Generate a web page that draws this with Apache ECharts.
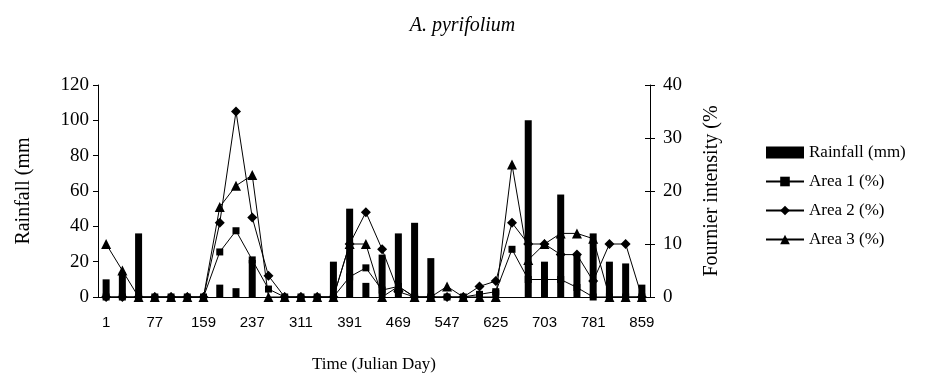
<!DOCTYPE html>
<html lang="en">
<head>
    <meta charset="UTF-8">
    <title>A. pyrifolium</title>
    <script src="https://cdn.jsdelivr.net/npm/echarts@6/dist/echarts.min.js"></script>
</head>
<body style="margin:0">
<div id="main" style="width: 925px;height: 379px"></div>
<script>
    // Julian day of each sample
    var days = [1, 27, 52, 77, 104, 131, 159, 185, 211, 237, 262, 286, 311, 338, 364, 391, 417,
        443, 469, 495, 521, 547, 573, 599, 625, 651, 677, 703, 729, 755, 781, 807, 833, 859];
    var rainfall = [10, 14, 36, 0, 0, 0, 0, 7, 5, 21, 0, 0, 0, 0, 20, 50, 8,
        24, 36, 42, 22, 0, 0, 3, 4, 0, 100, 20, 58, 24, 36, 20, 19, 7];
    var area1 = [0, 0, 0, 0, 0, 0, 0, 8.5, 12.5, 7, 1.5, 0, 0, 0, 0, 3.8, 5.5,
        1.3, 2, 0, 0, 0, 0, 0.5, 1, 9, 3.3, 3.3, 3.3, 1.8, 0, 0, 0, 0];
    var area2 = [0, 0, 0, 0, 0, 0, 0, 14, 35, 15, 4, 0, 0, 0, 0, 10, 16,
        9, 1, 0, 0, 0, 0, 2, 3, 14, 10, 10, 8, 8, 3, 10, 10, 0];
    var area3 = [10, 5, 0, 0, 0, 0, 0, 17, 21, 23, 0, 0, 0, 0, 0, 10, 10,
        0, 2, 0, 0, 2, 0, 0, 0, 25, 7, 10, 12, 12, 11, 0, 0, 0];

    var serif = 'Liberation Serif';
    var sans = 'Liberation Sans';

    var myChart = echarts.init(document.getElementById('main'));

    function lineSeries(name, data, symbol, size) {
        return {
            name: name,
            type: 'line',
            yAxisIndex: 1,
            data: data,
            symbol: symbol,
            symbolSize: size,
            showAllSymbol: true,
            z: 3,
            itemStyle: {color: '#000'},
            lineStyle: {color: '#000', width: 1}
        };
    }

    var option = {
        backgroundColor: '#fff',
        animation: false,
        title: {
            text: 'A. pyrifolium',
            left: 'center',
            top: 11,
            textStyle: {fontFamily: serif, fontStyle: 'italic', fontWeight: 'normal', fontSize: 20, color: '#000'}
        },
        legend: {
            orient: 'vertical',
            left: 760,
            top: 139,
            itemWidth: 38,
            itemHeight: 12,
            itemGap: 12,
            textStyle: {fontFamily: serif, fontSize: 17, color: '#000'},
            data: [{name: 'Rainfall (mm)', icon: 'rect'}, 'Area 1 (%)', 'Area 2 (%)', 'Area 3 (%)']
        },
        grid: {left: 98, right: 275, top: 85, bottom: 82},
        xAxis: {
            type: 'category',
            data: days,
            name: 'Time (Julian Day)',
            nameLocation: 'middle',
            nameGap: 59,
            nameTextStyle: {fontFamily: serif, fontSize: 17, color: '#000'},
            axisLine: {lineStyle: {color: '#000', width: 1}},
            axisTick: {interval: 0, length: 5, lineStyle: {color: '#000'}},
            axisLabel: {interval: 2, margin: 18, fontFamily: sans, fontSize: 15, color: '#000'}
        },
        yAxis: [{
            type: 'value',
            min: 0, max: 120, interval: 20,
            position: 'left',
            name: 'Rainfall (mm',
            nameLocation: 'middle',
            nameRotate: 90,
            nameGap: 64,
            nameTextStyle: {fontFamily: serif, fontSize: 20, color: '#000'},
            splitLine: {show: false},
            axisLine: {show: true, lineStyle: {color: '#000'}},
            axisTick: {show: true, length: 5, lineStyle: {color: '#000'}},
            axisLabel: {margin: 9, fontFamily: serif, fontSize: 19, color: '#000'}
        }, {
            type: 'value',
            min: 0, max: 40, interval: 10,
            position: 'right',
            name: 'Fournier intensity (%',
            nameLocation: 'middle',
            nameRotate: 90,
            nameGap: 52,
            nameTextStyle: {fontFamily: serif, fontSize: 20, color: '#000'},
            splitLine: {show: false},
            axisLine: {show: true, lineStyle: {color: '#000'}},
            axisTick: {show: true, length: 5, lineStyle: {color: '#000'}},
            axisLabel: {margin: 13, fontFamily: serif, fontSize: 19, color: '#000'}
        }, {
            // inner half of the crossing ticks on the right axis
            type: 'value',
            min: 0, max: 40, interval: 10,
            position: 'right',
            splitLine: {show: false},
            axisLine: {show: false},
            axisTick: {show: true, inside: true, length: 5, lineStyle: {color: '#000'}},
            axisLabel: {show: false}
        }],
        series: [{
            name: 'Rainfall (mm)',
            type: 'bar',
            data: rainfall,
            barWidth: 7,
            itemStyle: {color: '#000'},
            z: 2
        },
            lineSeries('Area 1 (%)', area1, 'rect', 7),
            lineSeries('Area 2 (%)', area2, 'diamond', 10),
            lineSeries('Area 3 (%)', area3, 'triangle', 10)
        ]
    };
    myChart.setOption(option);
</script>
</body>
</html>
